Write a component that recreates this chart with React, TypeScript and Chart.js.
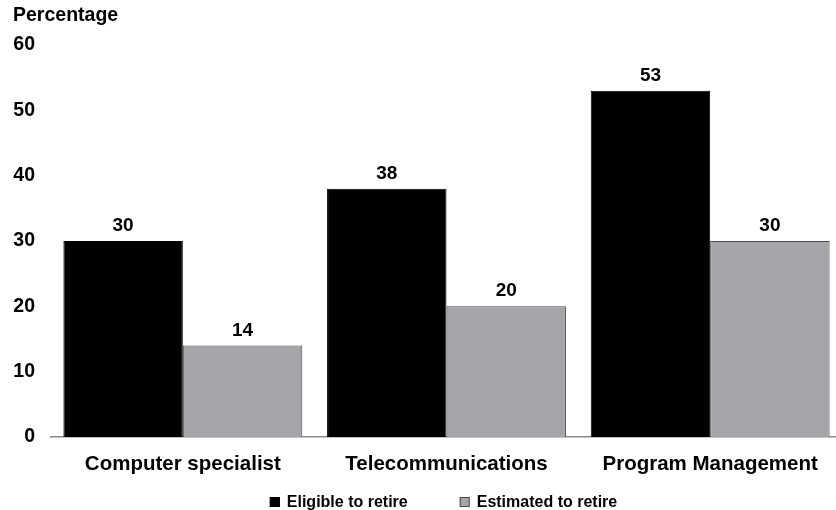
import React, { useEffect, useRef } from 'react';
import { Chart, registerables } from 'chart.js';

Chart.register(...registerables);

const categories = ['Computer specialist', 'Telecommunications', 'Program Management'];
const eligibleValues = [30, 38, 53];
const estimatedValues = [14, 20, 30];
const seriesNames = ['Eligible to retire', 'Estimated to retire'];
const yMin = 0;
const yMax = 60;
const yStep = 10;
const yTitle = 'Percentage';

const FONT = '"Liberation Sans", Arial, Helvetica, sans-serif';

const valueLabelPlugin = {
  id: 'valueLabels',
  afterDatasetsDraw(chart: any) {
    const ctx = chart.ctx;
    ctx.save();
    ctx.font = `bold 19px ${FONT}`;
    ctx.fillStyle = '#000';
    ctx.textAlign = 'center';
    ctx.textBaseline = 'alphabetic';
    chart.data.datasets.forEach((ds: any, i: number) => {
      const meta = chart.getDatasetMeta(i);
      meta.data.forEach((el: any, j: number) => {
        ctx.fillText(String(ds.data[j]), el.x, el.y - 10);
      });
    });
    ctx.restore();
  },
};

const titleAndLegendPlugin = {
  id: 'titleAndLegend',
  afterDraw(chart: any) {
    const ctx = chart.ctx;
    ctx.save();
    // axis title
    ctx.font = `bold 19.5px ${FONT}`;
    ctx.fillStyle = '#000';
    ctx.textAlign = 'left';
    ctx.textBaseline = 'alphabetic';
    ctx.fillText(yTitle, 13, 21);

    // legend
    ctx.font = `bold 16px ${FONT}`;
    const box = 10;
    const gap = 7;
    const spacing = 52;
    const items = chart.data.datasets.map((ds: any) => ({
      label: ds.label,
      color: ds.backgroundColor,
      border: ds.borderColor,
      w: box + gap + ctx.measureText(ds.label).width,
    }));
    const total = items.reduce((s: number, it: any) => s + it.w, 0) + spacing * (items.length - 1);
    const area = chart.chartArea;
    let x = (area.left + area.right) / 2 - 3 - total / 2;
    const baseline = 507;
    items.forEach((it: any) => {
      ctx.fillStyle = it.color;
      ctx.fillRect(x, baseline - box, box, box);
      ctx.strokeStyle = it.border;
      ctx.lineWidth = 1;
      ctx.strokeRect(x + 0.5, baseline - box + 0.5, box - 1, box - 1);
      ctx.fillStyle = '#000';
      ctx.fillText(it.label, x + box + gap, baseline);
      x += it.w + spacing;
    });
    ctx.restore();
  },
};

export default function App() {
  const canvasRef = useRef<HTMLCanvasElement | null>(null);

  useEffect(() => {
    const canvas = canvasRef.current;
    if (!canvas) return;
    const chart = new Chart(canvas, {
      type: 'bar',
      data: {
        labels: categories,
        datasets: [
          {
            label: seriesNames[0],
            data: eligibleValues,
            backgroundColor: '#000000',
            borderColor: '#000000',
            borderWidth: 1,
            categoryPercentage: 0.906,
            barPercentage: 1,
          },
          {
            label: seriesNames[1],
            data: estimatedValues,
            backgroundColor: '#a6a6aa',
            borderColor: '#4a4a4a',
            borderWidth: 1,
            categoryPercentage: 0.906,
            barPercentage: 1,
          },
        ],
      },
      options: {
        responsive: false,
        animation: false,
        devicePixelRatio: 1,
        layout: { padding: { top: 45, left: 0, right: 0, bottom: 0 } },
        plugins: {
          legend: { display: false },
          title: { display: false },
          tooltip: { enabled: false },
        },
        scales: {
          x: {
            grid: { display: false, drawTicks: false },
            border: { display: true, color: '#8a8a8a', width: 1.5 },
            ticks: {
              color: '#000',
              font: { family: FONT, size: 20.5, weight: 'bold' },
              padding: 15,
              maxRotation: 0,
              autoSkip: false,
            },
            afterFit: (scale: any) => {
              scale.height = 73;
            },
          },
          y: {
            min: yMin,
            max: yMax,
            grid: { display: false, drawTicks: false },
            border: { display: false },
            ticks: {
              stepSize: yStep,
              color: '#000',
              font: { family: FONT, size: 19.5, weight: 'bold' },
              padding: 16,
            },
            afterFit: (scale: any) => {
              scale.width = 51;
            },
          },
        },
      },
      plugins: [valueLabelPlugin, titleAndLegendPlugin],
    } as any);
    return () => chart.destroy();
  }, []);

  return (
    <div
      style={{
        position: 'absolute',
        left: 0,
        top: 0,
        width: 836,
        height: 510,
        overflow: 'hidden',
        background: '#fff',
      }}
    >
      <canvas ref={canvasRef} width={842} height={510} style={{ display: 'block' }} />
    </div>
  );
}
